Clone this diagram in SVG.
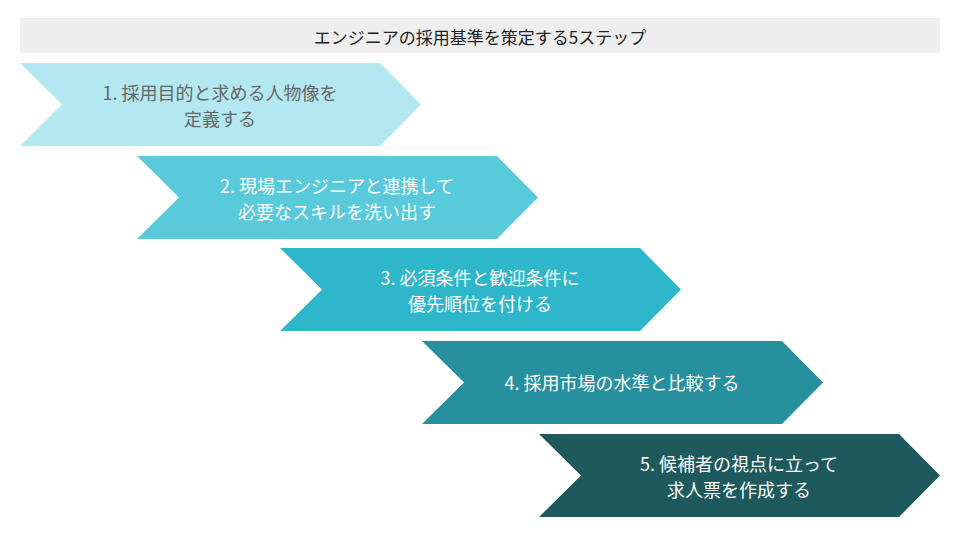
<svg xmlns="http://www.w3.org/2000/svg" width="960" height="540" viewBox="0 0 960 540">
<style>
text{font-family:"Noto Sans CJK JP","Noto Sans",sans-serif;font-size:18px;text-anchor:middle;dominant-baseline:central}
.w{fill:#ffffff}.g{fill:#666666}
</style>
<rect width="960" height="540" fill="#ffffff"/>
<g id="title"><rect x="20" y="18" width="920" height="35" fill="#eeeeee"/><text x="480" y="36" fill="#222222" style="font-size:17px">エンジニアの採用基準を策定する5ステップ</text></g>
<g id="step1"><path d="M20,63 H380 L421,104.5 L380,146 H20 L62,104.5 Z" fill="#b3e8f0"/><text class="g" x="220" y="92">1. 採用目的と求める人物像を</text><text class="g" x="220" y="118">定義する</text></g>
<g id="step2"><path d="M137,156 H497 L538,197.5 L497,239 H137 L179,197.5 Z" fill="#59cadb"/><text class="w" x="337" y="185">2. 現場エンジニアと連携して</text><text class="w" x="337" y="211">必要なスキルを洗い出す</text></g>
<g id="step3"><path d="M280,248 H640 L681,289.5 L640,331 H280 L322,289.5 Z" fill="#2eb6ca"/><text class="w" x="480" y="277">3. 必須条件と歓迎条件に</text><text class="w" x="480" y="303">優先順位を付ける</text></g>
<g id="step4"><path d="M422,341 H782 L823,382.5 L782,424 H422 L464,382.5 Z" fill="#27909f"/><text class="w" x="622" y="382">4. 採用市場の水準と比較する</text></g>
<g id="step5"><path d="M539,434 H899 L940,475.5 L899,517 H539 L581,475.5 Z" fill="#1e5a5d"/><text class="w" x="739" y="463">5. 候補者の視点に立って</text><text class="w" x="739" y="489">求人票を作成する</text></g>
<g id="connectors"/>
</svg>
